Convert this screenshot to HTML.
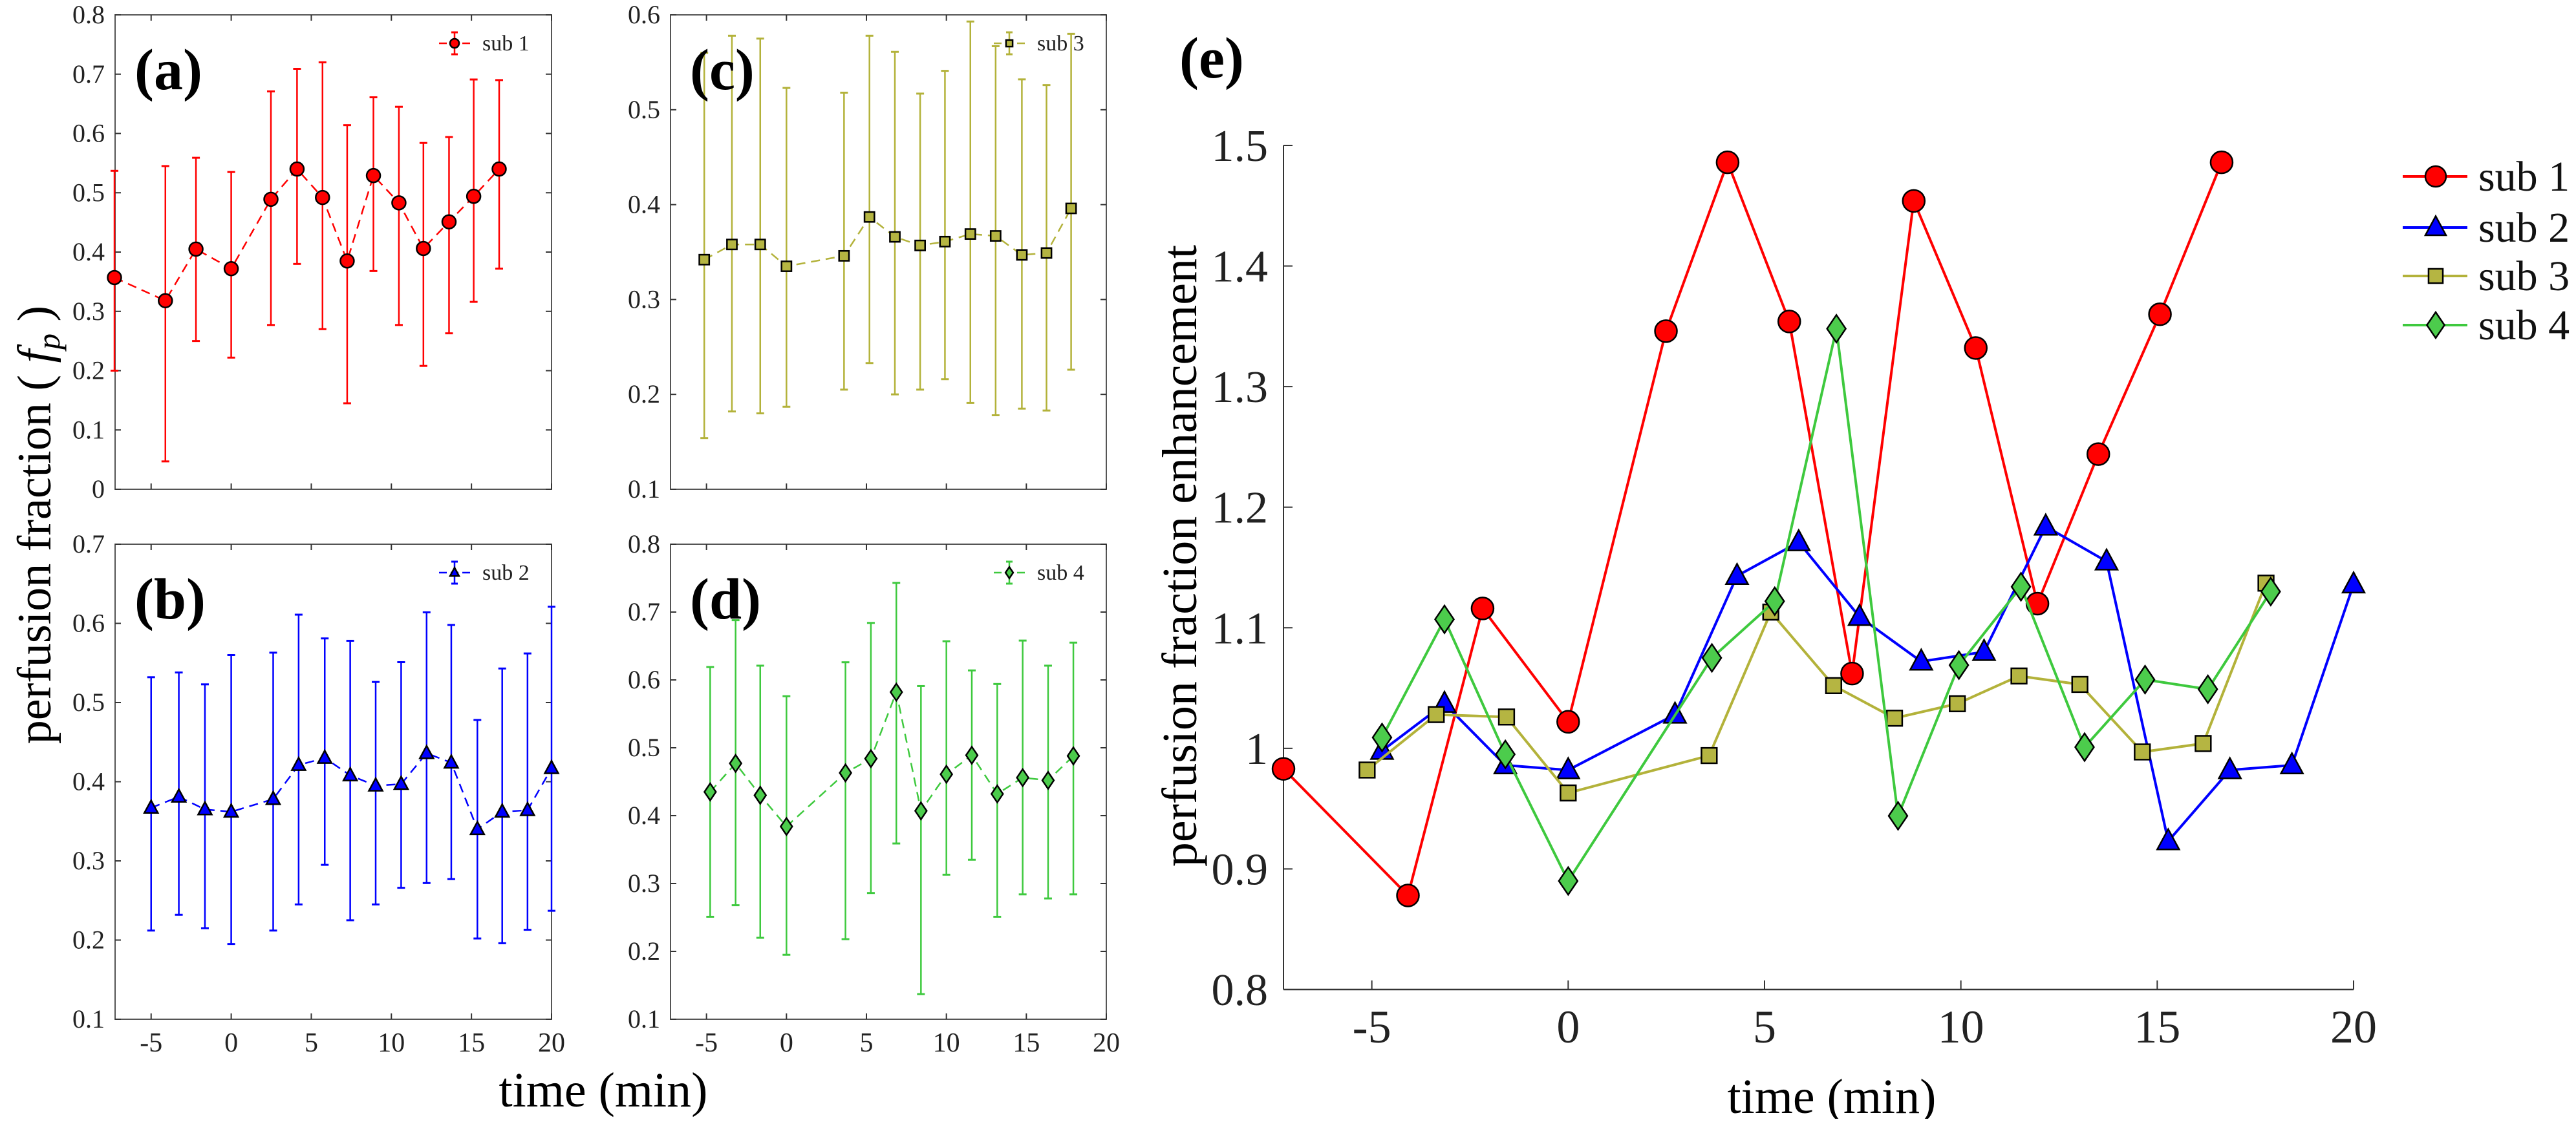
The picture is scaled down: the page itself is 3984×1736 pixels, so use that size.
<!DOCTYPE html>
<html><head><meta charset="utf-8">
<style>
html,body{margin:0;padding:0;background:#fff;}
svg, svg text{font-family:"Liberation Serif","DejaVu Serif",serif;}
</style></head>
<body>
<svg id="fig" width="3984" height="1731" viewBox="0 0 3984 1731" font-family="Liberation Serif, DejaVu Serif, serif" xmlns="http://www.w3.org/2000/svg"></svg>
<script>
// ---------- data ----------
const aX=[-7.29,-4.11,-2.2,0,2.48,4.11,5.70,7.24,8.88,10.47,12.0,13.6,15.14,16.73];
const aY=[0.357,0.318,0.405,0.372,0.489,0.540,0.492,0.385,0.529,0.483,0.406,0.451,0.494,0.540];
const aHi=[0.537,0.545,0.559,0.535,0.671,0.709,0.720,0.614,0.661,0.645,0.584,0.594,0.691,0.690];
const aLo=[0.200,0.047,0.250,0.222,0.277,0.380,0.270,0.145,0.368,0.277,0.208,0.263,0.316,0.372];

const bX=[-5,-3.27,-1.64,0,2.62,4.21,5.84,7.43,9.02,10.61,12.2,13.74,15.37,16.92,18.5,20.0];
const bY=[0.367,0.381,0.365,0.362,0.378,0.421,0.430,0.408,0.395,0.397,0.436,0.424,0.340,0.362,0.364,0.417];
const bHi=[0.532,0.538,0.523,0.560,0.563,0.611,0.581,0.578,0.526,0.551,0.614,0.598,0.478,0.543,0.562,0.621];
const bLo=[0.212,0.232,0.215,0.195,0.212,0.245,0.295,0.225,0.245,0.266,0.272,0.277,0.202,0.196,0.213,0.237];

const cX=[-5.14,-3.41,-1.64,0,3.6,5.19,6.78,8.36,9.91,11.5,13.08,14.72,16.26,17.8];
const cY=[0.342,0.358,0.358,0.335,0.346,0.387,0.366,0.357,0.361,0.369,0.367,0.347,0.349,0.396];
const cHi=[0.560,0.578,0.575,0.523,0.518,0.578,0.561,0.517,0.541,0.593,0.567,0.532,0.526,0.580];
const cLo=[0.154,0.182,0.180,0.187,0.205,0.233,0.200,0.205,0.216,0.191,0.178,0.185,0.183,0.226];

const dX=[-4.77,-3.18,-1.64,0,3.69,5.28,6.87,8.41,10,11.59,13.18,14.77,16.36,17.94];
const dY=[0.435,0.477,0.430,0.384,0.463,0.484,0.582,0.407,0.461,0.489,0.432,0.456,0.452,0.488];
const dHi=[0.619,0.688,0.621,0.576,0.626,0.684,0.743,0.591,0.657,0.614,0.594,0.658,0.621,0.655];
const dLo=[0.251,0.268,0.220,0.195,0.218,0.286,0.359,0.137,0.313,0.335,0.251,0.284,0.278,0.284];

const e1X=[-7.25,-4.08,-2.18,0,2.49,4.06,5.63,7.23,8.80,10.38,11.95,13.5,15.07,16.64];
const e1Y=[0.983,0.878,1.116,1.022,1.346,1.486,1.354,1.062,1.454,1.332,1.120,1.244,1.360,1.486];
const e2X=[-4.74,-3.15,-1.6,0,2.72,4.3,5.87,7.42,8.99,10.59,12.16,13.71,15.28,16.85,18.43,20];
const e2Y=[0.998,1.037,0.986,0.982,1.028,1.143,1.171,1.109,1.072,1.080,1.184,1.155,0.923,0.982,0.986,1.136];
const e3X=[-5.12,-3.36,-1.57,0,3.59,5.16,6.76,8.31,9.91,11.48,13.03,14.62,16.17,17.77];
const e3Y=[0.982,1.028,1.026,0.963,0.994,1.113,1.052,1.025,1.037,1.060,1.053,0.997,1.004,1.137];
const e4X=[-4.74,-3.15,-1.6,0,3.66,5.26,6.83,8.4,9.95,11.53,13.15,14.69,16.29,17.89];
const e4Y=[1.009,1.107,0.995,0.890,1.075,1.122,1.348,0.944,1.069,1.134,1.001,1.057,1.049,1.130];

const xTicks=[-5,0,5,10,15,20];
const xTickLabels=["-5","0","5","10","15","20"];
const eYTicks=[0.8,0.9,1,1.1,1.2,1.3,1.4,1.5];
const eYTickLabels=["0.8","0.9","1","1.1","1.2","1.3","1.4","1.5"];
const seriesNames=["sub 1","sub 2","sub 3","sub 4"];

// ---------- helpers ----------
const NS="http://www.w3.org/2000/svg";
const FF="Liberation Serif, DejaVu Serif, serif";
const svg=document.getElementById('fig');
function mk(tag,attrs,parent){const e=document.createElementNS(NS,tag);for(const k in attrs)e.setAttribute(k,attrs[k]);if(tag==='text')e.setAttribute('font-family',FF);(parent||svg).appendChild(e);return e;}
const COL={red:['#ff0000','#ff0000'],blue:['#0000ff','#0000ff'],olive:['#b3b23a','#b5b542'],green:['#3ec93e','#4ccc4c']};

function marker(g,shape,cx,cy,r,fill){
  let m;
  if(shape==='circle'){m=mk('circle',{cx:cx,cy:cy,r:r,fill:fill,stroke:'#000','stroke-width':2.5},g);}
  else if(shape==='tri'){m=mk('polygon',{points:`${cx},${cy-r*1.1} ${cx-r},${cy+r*0.75} ${cx+r},${cy+r*0.75}`,fill:fill,stroke:'#000','stroke-width':2.5},g);}
  else if(shape==='square'){m=mk('rect',{x:cx-r*0.85,y:cy-r*0.85,width:r*1.7,height:r*1.7,fill:fill,stroke:'#000','stroke-width':2.5},g);}
  else {m=mk('polygon',{points:`${cx},${cy-r*1.25} ${cx+r*0.85},${cy} ${cx},${cy+r*1.25} ${cx-r*0.85},${cy}`,fill:fill,stroke:'#000','stroke-width':2.5},g);}
  return m;
}

function smallPanel(o){
  const g=mk('g',{});
  
  
  const L=o.L,R=o.R,T=o.T,B=o.B;
  const sx=v=>L+(v-(-7.25))/(20-(-7.25))*(R-L);
  const sy=v=>B-(v-o.ymin)/(o.ymax-o.ymin)*(B-T);
  mk('rect',{x:L,y:T,width:R-L,height:B-T,fill:'none',stroke:'#555','stroke-width':2},g);
  xTicks.forEach((t,i)=>{
    const x=sx(t);
    mk('line',{x1:x,y1:B,x2:x,y2:B-9,stroke:'#333','stroke-width':2},g);
    mk('line',{x1:x,y1:T,x2:x,y2:T+9,stroke:'#333','stroke-width':2},g);
    if(o.xlabels){const tl=mk('text',{x:x,y:B+50,'font-size':42,'text-anchor':'middle',fill:'#222'},g);tl.textContent=xTickLabels[i];
      }
  });
  for(let k=0;k<=Math.round((o.ymax-o.ymin)*10);k++){
    const v=o.ymin+k*0.1, y=sy(v);
    mk('line',{x1:L,y1:y,x2:L+9,y2:y,stroke:'#333','stroke-width':2},g);
    mk('line',{x1:R,y1:y,x2:R-9,y2:y,stroke:'#333','stroke-width':2},g);
    const tl=mk('text',{x:L-16,y:y+13,'font-size':40,'text-anchor':'end',fill:'#222'},g);
    tl.textContent=(Math.round(v*10)/10).toString();
    
  }
  const [lc,fc]=COL[o.col];
  o.X.forEach((xv,i)=>{
    const x=sx(xv);
    const eb=mk('g',{},g);
    
    
    mk('line',{x1:x,y1:sy(o.Hi[i]),x2:x,y2:sy(o.Lo[i]),stroke:lc,'stroke-width':2.5},eb);
    mk('line',{x1:x-6,y1:sy(o.Hi[i]),x2:x+6,y2:sy(o.Hi[i]),stroke:lc,'stroke-width':3},eb);
    mk('line',{x1:x-6,y1:sy(o.Lo[i]),x2:x+6,y2:sy(o.Lo[i]),stroke:lc,'stroke-width':3},eb);
  });
  const pts=o.X.map((xv,i)=>sx(xv)+','+sy(o.Y[i])).join(' ');
  const pl=mk('polyline',{points:pts,fill:'none',stroke:lc,'stroke-width':2.5,'stroke-dasharray':'14 9'},g);
  
  o.X.forEach((xv,i)=>{const m=marker(g,o.shape,sx(xv),sy(o.Y[i]),o.shape==='square'?9:10.5,fc);
    });
  const lg=mk('g',{},g);
  
  
  const ly=T+44;
  mk('line',{x1:R-174,y1:ly,x2:R-126,y2:ly,stroke:lc,'stroke-width':2.5,'stroke-dasharray':'12 6'},lg);
  mk('line',{x1:R-150,y1:ly-17,x2:R-150,y2:ly+17,stroke:lc,'stroke-width':2.5},lg);
  mk('line',{x1:R-155,y1:ly-17,x2:R-145,y2:ly-17,stroke:lc,'stroke-width':3},lg);
  mk('line',{x1:R-155,y1:ly+17,x2:R-145,y2:ly+17,stroke:lc,'stroke-width':3},lg);
  marker(lg,o.shape,R-150,ly,o.shape==='square'?6:7,fc);
  const lt=mk('text',{x:R-107,y:ly+11,'font-size':34,fill:'#222'},lg);lt.textContent=o.leg;
  const pn=mk('text',{x:o.L+30,y:T+115,'font-size':90,'font-weight':'bold',fill:'#000'},g);
  pn.textContent=o.label;
  
}

smallPanel({name:'panel-a',L:178,R:853,T:23,B:757,ymin:0,ymax:0.8,X:aX,Y:aY,Hi:aHi,Lo:aLo,col:'red',shape:'circle',leg:seriesNames[0],label:'(a)',xlabels:false});
smallPanel({name:'panel-b',L:178,R:853,T:842,B:1577,ymin:0.1,ymax:0.7,X:bX,Y:bY,Hi:bHi,Lo:bLo,col:'blue',shape:'tri',leg:seriesNames[1],label:'(b)',xlabels:true});
smallPanel({name:'panel-c',L:1037,R:1711,T:23,B:757,ymin:0.1,ymax:0.6,X:cX,Y:cY,Hi:cHi,Lo:cLo,col:'olive',shape:'square',leg:seriesNames[2],label:'(c)',xlabels:false});
smallPanel({name:'panel-d',L:1037,R:1711,T:842,B:1577,ymin:0.1,ymax:0.8,X:dX,Y:dY,Hi:dHi,Lo:dLo,col:'green',shape:'diamond',leg:seriesNames[3],label:'(d)',xlabels:true});

let t=mk('text',{x:0,y:0,'font-size':74,'text-anchor':'middle',fill:'#000',transform:'translate(78,812) rotate(-90)'});
t.innerHTML='perfusion fraction ( <tspan font-style="italic">f</tspan><tspan font-style="italic" font-size="50" dy="14">p</tspan><tspan dy="-14"> )</tspan>';

t=mk('text',{x:933,y:1712,'font-size':76,'text-anchor':'middle',fill:'#000'});t.textContent='time (min)';


// ---------- panel e ----------
(function(){
  const g=mk('g',{});
  
  
  const L=1985,R=3640,T=225,B=1531;
  const sx=v=>L+(v-(-7.25))/(20-(-7.25))*(R-L);
  const sy=v=>B-(v-0.8)/(1.5-0.8)*(B-T);
  mk('line',{x1:L,y1:T,x2:L,y2:B,stroke:'#333','stroke-width':2},g);
  mk('line',{x1:L,y1:B,x2:R,y2:B,stroke:'#333','stroke-width':2.5},g);
  xTicks.forEach((tv,i)=>{const x=sx(tv);mk('line',{x1:x,y1:B,x2:x,y2:B-14,stroke:'#333','stroke-width':2},g);
    const tl=mk('text',{x:x,y:B+82,'font-size':72,'text-anchor':'middle',fill:'#222'},g);tl.textContent=xTickLabels[i];
    });
  eYTicks.forEach((tv,i)=>{const y=sy(tv);mk('line',{x1:L,y1:y,x2:L+14,y2:y,stroke:'#333','stroke-width':2},g);
    const tl=mk('text',{x:L-24,y:y+24,'font-size':70,'text-anchor':'end',fill:'#222'},g);tl.textContent=eYTickLabels[i];
    });
  const series=[[e1X,e1Y,'red','circle'],[e2X,e2Y,'blue','tri'],[e3X,e3Y,'olive','square'],[e4X,e4Y,'green','diamond']];
  series.forEach((s,si)=>{
    const sg=mk('g',{},g);
    
    
    const [lc,fc]=COL[s[2]];
    mk('polyline',{points:s[0].map((xv,i)=>sx(xv)+','+sy(s[1][i])).join(' '),fill:'none',stroke:lc,'stroke-width':4},sg);
    s[0].forEach((xv,i)=>{const m=marker(sg,s[3],sx(xv),sy(s[1][i]),s[3]==='square'?14:17,fc);
      });
    const le=mk('g',{},g);
    
    
    const ly=[273,352,427,503][si];
    mk('line',{x1:3716,y1:ly,x2:3816,y2:ly,stroke:lc,'stroke-width':4},le);
    marker(le,s[3],3767,ly,s[3]==='square'?13:16,fc);
    const lt=mk('text',{x:3833,y:ly+22,'font-size':66,fill:'#111'},le);lt.textContent=seriesNames[si];
  });
  let tt=mk('text',{x:0,y:0,'font-size':76,'text-anchor':'middle',fill:'#000',transform:'translate(1850,860) rotate(-90)'},g);
  tt.textContent='perfusion fraction enhancement';
  
  tt=mk('text',{x:2833,y:1722,'font-size':76,'text-anchor':'middle',fill:'#000'},g);tt.textContent='time (min)';
  
  tt=mk('text',{x:1824,y:120,'font-size':90,'font-weight':'bold',fill:'#000'},g);tt.textContent='(e)';
  
})();
</script>
</body></html>
